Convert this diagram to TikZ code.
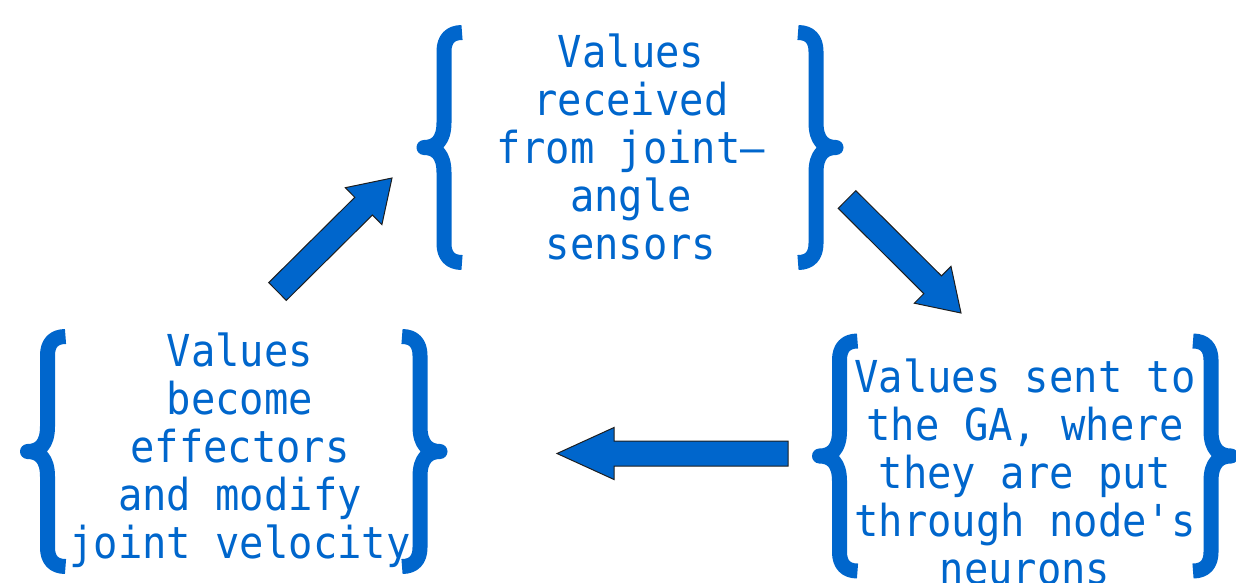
\documentclass[tikz,border=0pt]{standalone}
\usepackage{fontspec}
\setmonofont[FakeStretch=0.92]{DejaVu Sans Mono}
\usetikzlibrary{calc}
\definecolor{valueblue}{RGB}{0,102,204}
\definecolor{arrowline}{RGB}{30,30,30}

% block arrow from tail #1 to tip #2, head length #3
\newcommand{\blockarrow}[3]{%
  \coordinate (neck) at ($(#2)!#3!(#1)$);
  \draw[arrowbody] ($(#1)!12.5pt!90:(#2)$) -- ($(neck)!12.5pt!90:(#2)$)
    -- ($(neck)!26pt!90:(#2)$) -- (#2) -- ($(neck)!26pt!-90:(#2)$)
    -- ($(neck)!12.5pt!-90:(#2)$) -- ($(#1)!12.5pt!-90:(#2)$) -- cycle;
}

\begin{document}
\begin{tikzpicture}[x=1pt, y=-1pt,
    valuetext/.style={text=valueblue, align=center, inner sep=0pt, anchor=base,
      font=\ttfamily\fontsize{44}{48}\selectfont},
    bracestroke/.style={draw=valueblue, line width=15pt, line join=round, line cap=butt},
    arrowbody/.style={fill=valueblue, draw=arrowline, line width=1pt},
    brace/.pic={
      \draw[bracestroke] (18,-115) .. controls (6,-115) and (0,-108) .. (0,-96)
        -- (0,-25) .. controls (0,-7) and (-8,0) .. (-20,0)
        .. controls (-8,0) and (0,7) .. (0,25)
        -- (0,96) .. controls (0,108) and (6,115) .. (18,115);
    }]
  \clip (0,0) rectangle (1236,582);

  % Sensor values
  \pic at (444,147.5) {brace};
  \pic[xscale=-1] at (816,147.5) {brace};
  \node[valuetext] (sensors) at (631,259) {Values\\received\\from joint—\\angle\\sensors};

  % Values sent to the GA
  \pic at (839.5,456) {brace};
  \pic[xscale=-1] at (1211,456) {brace};
  \node[valuetext] (ga) at (1025,584) {Values sent to\\the GA, where\\they are put\\through node's\\neurons};

  % Effector values
  \pic at (47.5,451.5) {brace};
  \pic[xscale=-1] at (420,451.5) {brace};
  \node[valuetext] (effectors) at (240,558) {Values\\become\\effectors\\and modify\\joint velocity};

  % Arrows
  \coordinate (upTail) at (277.5,291.5);
  \coordinate (upTip) at (392,178);
  \coordinate (downTail) at (847,199.5);
  \coordinate (downTip) at (961,313);
  \coordinate (backTail) at (788,453.5);
  \coordinate (backTip) at (557,453.5);
  \blockarrow{upTail}{upTip}{40pt}
  \blockarrow{downTail}{downTip}{40pt}
  \blockarrow{backTail}{backTip}{57pt}
\end{tikzpicture}
\end{document}
